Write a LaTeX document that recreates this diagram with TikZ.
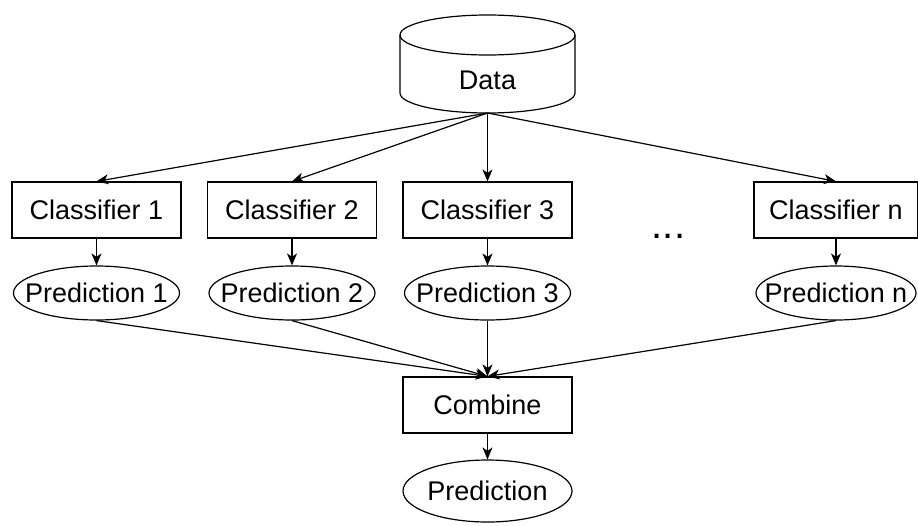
\documentclass[tikz,border=0pt]{standalone}
\usepackage{fontspec}
\setmainfont{Liberation Sans}
\usetikzlibrary{arrows.meta,shapes.geometric}
\begin{document}
\begin{tikzpicture}[x=1pt,y=-1pt,
  line width=1.2pt,
  every node/.style={font=\fontsize{27}{31}\selectfont},
  box/.style={draw, rectangle, minimum width=169pt, minimum height=56pt, inner sep=0pt},
  oval/.style={draw, ellipse, minimum width=166pt, minimum height=54pt, inner sep=0pt},
  arr/.style={-{Stealth[length=12pt,width=10pt,inset=3.5pt]}}
]
\useasboundingbox (0,0) rectangle (918,525);
% Data cylinder
\draw (400,35) -- (400,93) arc[start angle=180, end angle=0, x radius=87.5, y radius=20] -- (575,35);
\draw (487.5,35) ellipse[x radius=87.5, y radius=20];
\node (data) at (487.5,80) {Data};
\coordinate (dbot) at (487.5,113);
% classifiers
\node[box] (c1) at (96.5,210) {Classifier 1};
\node[box] (c2) at (292,210) {Classifier 2};
\node[box] (c3) at (487.5,210) {Classifier 3};
\node[box, minimum width=164pt] (cn) at (836,210) {Classifier n};
\node[font=\fontsize{40}{44}\selectfont, anchor=base] (dots) at (668.5,238) {...};
% predictions (ellipse outlines, text on top)
\node[oval] (p1) at (96.5,293) {};
\node[oval] (p2) at (292,293) {};
\node[oval] (p3) at (487.5,293) {};
\node[oval, minimum width=160pt] (pn) at (836,293) {};
\node (p1t) at (p1.center) {Prediction 1};
\node (p2t) at (p2.center) {Prediction 2};
\node (p3t) at (p3.center) {Prediction 3};
\node (pnt) at (pn.center) {Prediction n};
% combine
\node[box] (comb) at (487.5,405) {Combine};
\node[oval, minimum width=169pt, minimum height=62pt] (pf) at (487.5,491) {};
\node (pft) at (pf.center) {Prediction};
% edges
\foreach \c in {c1,c2,c3,cn} \draw[arr] (dbot) -- (\c.north);
\draw[arr] (c1.south) -- (p1.north);
\draw[arr] (c2.south) -- (p2.north);
\draw[arr] (c3.south) -- (p3.north);
\draw[arr] (cn.south) -- (pn.north);
\foreach \p in {p1,p2,p3,pn} \draw[arr] (\p.south) -- (comb.north);
\draw[arr] (comb.south) -- (pf.north);
\end{tikzpicture}
\end{document}
